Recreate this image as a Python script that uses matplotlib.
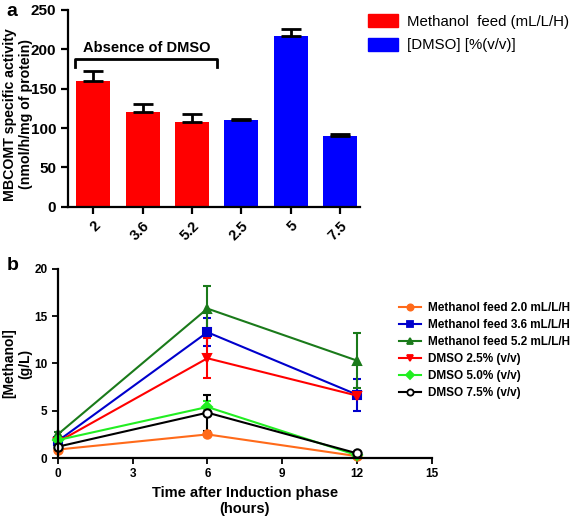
import numpy as np
import matplotlib.pyplot as plt
from matplotlib.patches import Patch
from matplotlib.lines import Line2D

# panel a data
bar_labels = ['2', '3.6', '5.2', '2.5', '5', '7.5']
activity = [160, 120.5, 108, 110, 217, 90]
activity_err = [12, 10, 10, 1.5, 9, 3]
bar_colors = ['#ff0000', '#ff0000', '#ff0000', '#0000ff', '#0000ff', '#0000ff']

# panel b data
time_h = [0, 6, 12]
series_names = ['Methanol feed 2.0 mL/L/H', 'Methanol feed 3.6 mL/L/H',
                'Methanol feed 5.2 mL/L/H', 'DMSO 2.5% (v/v)',
                'DMSO 5.0% (v/v)', 'DMSO 7.5% (v/v)']
methanol = [[0.9, 2.5, 0.2],
            [1.8, 13.3, 6.7],
            [2.5, 15.8, 10.3],
            [1.7, 10.55, 6.6],
            [1.9, 5.4, 0.3],
            [1.2, 4.8, 0.5]]
methanol_err = [[0.1, 0.2, 0.1],
                [0.3, 1.5, 1.7],
                [0.3, 2.4, 2.9],
                [0.2, 2.1, 0.2],
                [0.2, 0.6, 0.1],
                [0.2, 1.9, 0.1]]
line_colors = ['#ff6a1a', '#0000cc', '#1a7a1a', '#ff0000', '#22ee22', '#000000']
markers = ['o', 's', '^', 'v', 'D', 'o']

plt.rcParams['font.family'] = ['Liberation Sans', 'DejaVu Sans']
plt.rcParams['font.weight'] = 'bold'

fig = plt.figure(figsize=(5.72, 5.17), dpi=100)

# ---- panel a
ax1 = fig.add_axes([0.119, 0.600, 0.510, 0.381])
x = np.arange(len(bar_labels))
ax1.bar(x, activity, width=0.69, color=bar_colors,
        yerr=[np.zeros(len(activity)), activity_err],
        error_kw=dict(ecolor='black', elinewidth=2, capsize=7, capthick=2))
ax1.set_xlim(-0.51, 5.4)
ax1.set_ylim(0, 250)
ax1.set_yticks([0, 50, 100, 150, 200, 250])
ax1.set_xticks(x)
ax1.set_xticklabels(bar_labels, rotation=45, ha='right', rotation_mode='anchor',
                    fontsize=10.5, fontweight='bold')
for lab in ax1.get_yticklabels():
    lab.set_fontweight('bold')
    lab.set_fontsize(11)
ax1.spines['top'].set_visible(False)
ax1.spines['right'].set_visible(False)
ax1.spines['left'].set_linewidth(1.6)
ax1.spines['bottom'].set_linewidth(1.6)
ax1.tick_params(width=1.6, length=5)
ax1.set_ylabel('MBCOMT specific activity\n(nmol/h/mg of protein)',
               fontsize=10.2, fontweight='bold')
ax1.yaxis.set_label_coords(-0.12, 0.47)

# bracket over the methanol-only bars
ax1.plot([-0.37, -0.37, 2.5, 2.5], [178, 187, 187, 178], color='black', lw=2)
ax1.text(1.08, 193, 'Absence of DMSO', ha='center', va='bottom',
         fontsize=10.5, fontweight='bold')

handles = [Patch(color='#ff0000'), Patch(color='#0000ff')]
fig.legend(handles, ['Methanol  feed (mL/L/H)', '[DMSO] [%(v/v)]'],
           loc='upper left', bbox_to_anchor=(0.632, 0.985), frameon=False,
           prop=dict(size=10.8, weight='normal'), handlelength=2.0,
           handleheight=1.0, handletextpad=0.6, labelspacing=0.6,
           borderaxespad=0.0)

fig.text(0.012, 0.977, 'a', fontsize=14, fontweight='bold', va='center')

# ---- panel b
ax2 = fig.add_axes([0.101, 0.114, 0.654, 0.366])
for i in range(len(series_names)):
    face = 'white' if i == 5 else line_colors[i]
    ms = 5 if markers[i] == 'D' else 6
    ax2.errorbar(time_h, methanol[i], yerr=methanol_err[i], color=line_colors[i],
                 marker=markers[i], markersize=ms, markerfacecolor=face,
                 markeredgewidth=1.5, lw=1.5, capsize=3, capthick=1.5,
                 clip_on=False)
ax2.set_xlim(0, 15)
ax2.set_ylim(0, 20)
ax2.set_xticks([0, 3, 6, 9, 12, 15])
ax2.set_yticks([0, 5, 10, 15, 20])
for lab in ax2.get_xticklabels() + ax2.get_yticklabels():
    lab.set_fontweight('bold')
    lab.set_fontsize(8.5)
ax2.spines['top'].set_visible(False)
ax2.spines['right'].set_visible(False)
ax2.spines['left'].set_linewidth(1.6)
ax2.spines['bottom'].set_linewidth(1.6)
ax2.tick_params(width=1.3, length=4)
ax2.set_xlabel('Time after Induction phase\n(hours)', fontsize=10.5, fontweight='bold')
ax2.set_ylabel('[Methanol]\n(g/L)', fontsize=10, fontweight='bold')
ax2.yaxis.set_label_coords(-0.068, 0.5)

leg_handles = []
for i in range(len(series_names)):
    face = 'white' if i == 5 else line_colors[i]
    leg_handles.append(Line2D([], [], color=line_colors[i], marker=markers[i],
                              markersize=4.5, markerfacecolor=face,
                              markeredgewidth=1.3, lw=1.5))
fig.legend(leg_handles, series_names, loc='upper left',
           bbox_to_anchor=(0.69, 0.425), frameon=False,
           prop=dict(size=8.5, weight='bold'), handlelength=1.8,
           handletextpad=0.6, labelspacing=0.42, borderaxespad=0.0)

fig.text(0.012, 0.487, 'b', fontsize=14, fontweight='bold', va='center')

fig.savefig('out.png', dpi=100)
